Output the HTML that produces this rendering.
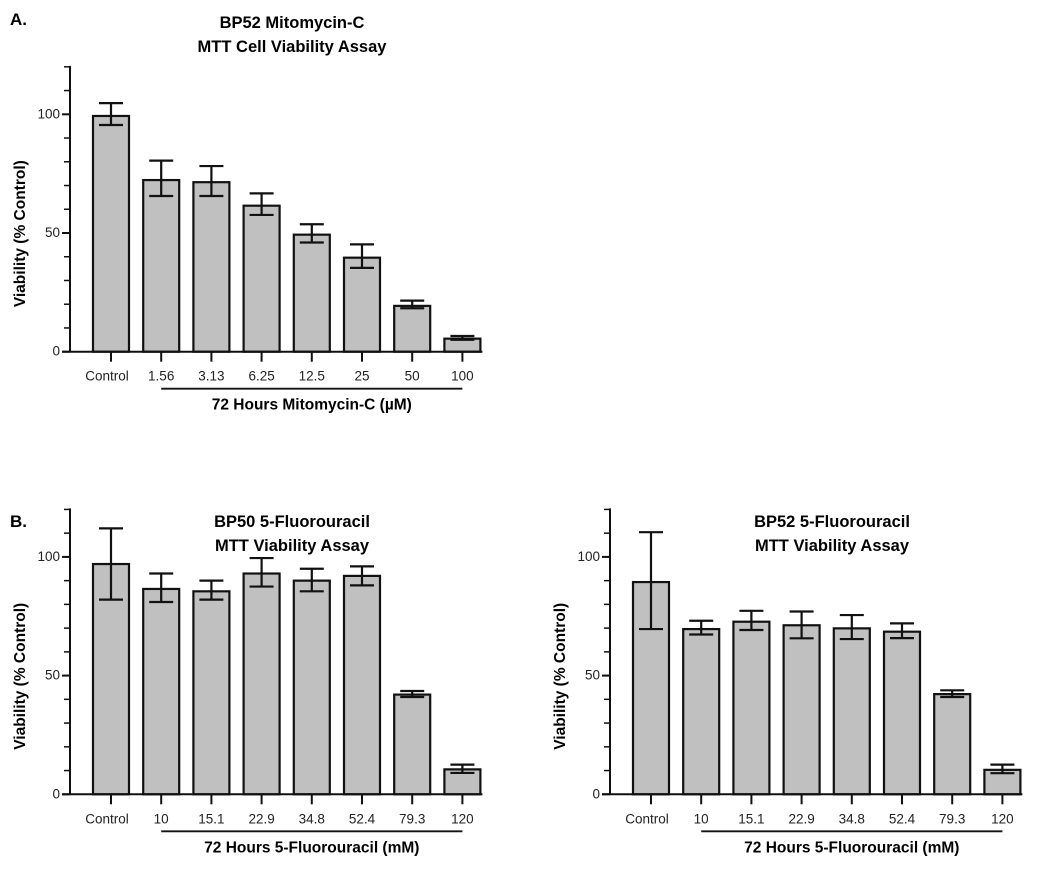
<!DOCTYPE html>
<html><head><meta charset="utf-8"><style>
body{margin:0;background:#fff;}
svg{display:block;font-family:"Liberation Sans",Arial,sans-serif;}
</style></head><body>
<svg id="fig" width="1050" height="869" viewBox="0 0 1050 869" xmlns="http://www.w3.org/2000/svg">
<text x="10" y="25" font-size="17" font-weight="bold">A.</text>
<text x="10" y="527" font-size="17" font-weight="bold">B.</text>
</svg>
<script>
const catsA = ["Control","1.56","3.13","6.25","12.5","25","50","100"];
const valsA = [99.3,72.3,71.4,61.5,49.3,39.6,19.3,5.5];
const hiA = [104.7,80.5,78.2,66.7,53.7,45.2,21.5,6.6];
const loA = [95.5,65.6,65.6,57.6,46.0,35.3,18.3,5.0];
const catsB = ["Control","10","15.1","22.9","34.8","52.4","79.3","120"];
const valsB1 = [97,86.5,85.5,93,90,92,42,10.5];
const hiB1 = [112,93,90,99.5,95,96,43.5,12.5];
const loB1 = [82,81,82,87.5,85.5,88,41,9];
const valsB2 = [89.4,69.6,72.7,71.2,69.9,68.5,42.2,10.3];
const hiB2 = [110.4,73.1,77.3,77,75.5,72,43.8,12.5];
const loB2 = [69.6,67.3,69.2,65.7,65.4,65.8,41,8.9];
const yTicks = [0,50,100];

const svg = document.getElementById('fig');
const NS = "http://www.w3.org/2000/svg";
function mk(tag, attrs, parent){
  const e = document.createElementNS(NS, tag);
  for (const k in attrs) e.setAttribute(k, attrs[k]);
  (parent||svg).appendChild(e); return e;
}
function chart(id, ox, oy, titleY, cats, vals, hi, lo, t1, t2, xtitle){
  const g = mk('g', {});
  
  
  const y0 = 351.7 + oy, ppu = 2.374;
  const Y = v => y0 - v*ppu;
  const X = i => 111 + ox + i*50.2;
  const ax = 70 + ox;
  const tt1 = mk('text', {x: 292+ox, y: titleY, 'font-size': 16.5, 'font-weight': 'bold', 'text-anchor': 'middle'}, g);
  tt1.textContent = t1;
  
  
  const tt2 = mk('text', {x: 292+ox, y: titleY+24, 'font-size': 16.5, 'font-weight': 'bold', 'text-anchor': 'middle'}, g);
  tt2.textContent = t2;
  
  
  cats.forEach((c, i) => {
    const r = mk('rect', {x: X(i)-18, y: Y(vals[i]), width: 36, height: y0-Y(vals[i]), fill: '#c0c0c0', stroke: '#111', 'stroke-width': 2.2}, g);
    
    
    const eb = mk('path', {d: `M${X(i)} ${Y(hi[i])}V${Y(lo[i])}M${X(i)-12} ${Y(hi[i])}H${X(i)+12}M${X(i)-12} ${Y(lo[i])}H${X(i)+12}`, stroke: '#111', 'stroke-width': 2.2, fill: 'none'}, g);
    
    
    const tk = mk('line', {x1: X(i), x2: X(i), y1: y0, y2: y0+10, stroke: '#111', 'stroke-width': 2}, g);
    
    
    const tl = mk('text', {x: X(i)+(i==0?-4:0), y: y0+29, 'font-size': 13.5, 'text-anchor': 'middle', fill: '#222'}, g);
    tl.textContent = c;
    
    
  });
  const axes = mk('path', {d: `M${ax} ${Y(120)-1}V${y0}M${ax-8} ${y0}H${X(7)+20}`, stroke: '#111', 'stroke-width': 2, fill: 'none'}, g);
  
  
  for (let v = 10; v <= 120; v += 10) {
    const m = mk('line', {x1: ax-6, x2: ax, y1: Y(v), y2: Y(v), stroke: '#111', 'stroke-width': 1.5}, g);
    
    
  }
  yTicks.forEach(v => {
    const t = mk('line', {x1: ax-8, x2: ax, y1: Y(v), y2: Y(v), stroke: '#111', 'stroke-width': 2}, g);
    
    
    const l = mk('text', {x: ax-10, y: Y(v)+4, 'font-size': 13.5, 'text-anchor': 'end', fill: '#222'}, g);
    l.textContent = v;
    
    
  });
  const yt = mk('text', {x: 0, y: 0, 'font-size': 15.5, 'font-weight': 'bold', 'text-anchor': 'middle', transform: `translate(${25+ox},${y0-118}) rotate(-90)`}, g);
  yt.textContent = 'Viability (% Control)';
  
  
  const ul = mk('line', {x1: X(1), x2: X(7), y1: y0+37, y2: y0+37, stroke: '#111', 'stroke-width': 1.8}, g);
  
  
  const xt = mk('text', {x: (X(1)+X(7))/2, y: y0+58, 'font-size': 15.5, 'font-weight': 'bold', 'text-anchor': 'middle'}, g);
  xt.textContent = xtitle;
  
  
}
chart('chart-a-bp52-mitomycin', 0, 0, 28, catsA, valsA, hiA, loA, 'BP52 Mitomycin-C', 'MTT Cell Viability Assay', '72 Hours Mitomycin-C (µM)');
chart('chart-b-bp50-5fu', 0, 442.6, 527, catsB, valsB1, hiB1, loB1, 'BP50 5-Fluorouracil', 'MTT Viability Assay', '72 Hours 5-Fluorouracil (mM)');
chart('chart-b-bp52-5fu', 540, 442.6, 527, catsB, valsB2, hiB2, loB2, 'BP52 5-Fluorouracil', 'MTT Viability Assay', '72 Hours 5-Fluorouracil (mM)');
</script>
</body></html>
